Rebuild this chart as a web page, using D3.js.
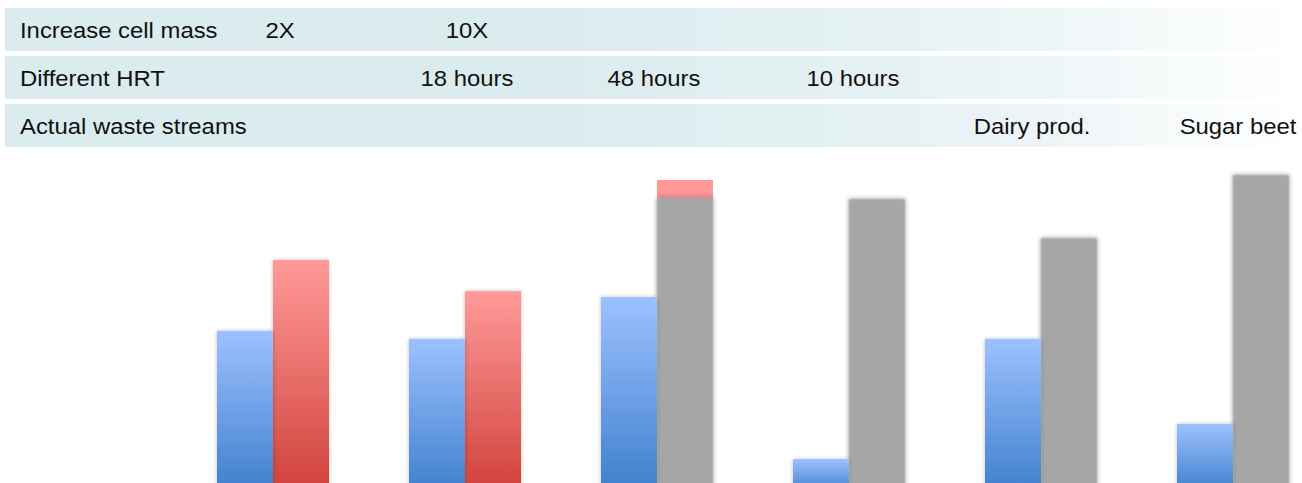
<!DOCTYPE html>
<html>
<head>
<meta charset="utf-8">
<script src="https://cdn.jsdelivr.net/npm/d3@7"></script>
<style>
  html, body { margin: 0; padding: 0; background: #ffffff; }
  svg { display: block; }
  text { font-family: "Liberation Sans", Arial, sans-serif; fill: #111111; }
</style>
</head>
<body>
<svg id="chart" width="1302" height="483"></svg>
<script>
// Six trials, each with a baseline run and a comparison run
const trials = ["Trial 1", "Trial 2", "Trial 3", "Trial 4", "Trial 5", "Trial 6"];
const baselineValues = [49.4, 46.8, 60.4, 7.8, 46.8, 19.2];
const redValues = [72.4, 62.3, 98.4, null, null, null];
const grayValues = [null, null, 92.5, 92.2, 79.5, 100];

// Condition rows shown above the bars
const rowTitles = ["Increase cell mass", "Different HRT", "Actual waste streams"];
const cellMassLabels = ["2X", "10X", "", "", "", ""];
const hrtLabels = ["", "18 hours", "48 hours", "10 hours", "", ""];
const wasteLabels = ["", "", "", "", "Dairy prod.", "Sugar beet"];
const rowLabels = [cellMassLabels, hrtLabels, wasteLabels];

const width = 1302, height = 483;
const svg = d3.select("#chart");
const defs = svg.append("defs");

// Vertical gradients for the bar fills
function vGradient(id, top, bottom) {
  const g = defs.append("linearGradient").attr("id", id)
    .attr("x1", 0).attr("y1", 0).attr("x2", 0).attr("y2", 1);
  g.append("stop").attr("offset", "0%").attr("stop-color", top);
  g.append("stop").attr("offset", "100%").attr("stop-color", bottom);
}
vGradient("blueFill", "#9cc1ff", "#3e7fcd");
vGradient("redFill", "#ff9a99", "#d0413b");

// Row bands fade out toward the right
const bandGrad = defs.append("linearGradient").attr("id", "bandFill")
  .attr("gradientUnits", "userSpaceOnUse")
  .attr("x1", 0).attr("y1", 0).attr("x2", width).attr("y2", 0);
bandGrad.append("stop").attr("offset", "0%").attr("stop-color", "#daecee");
bandGrad.append("stop").attr("offset", "42%").attr("stop-color", "#daecee");
bandGrad.append("stop").attr("offset", "75%").attr("stop-color", "#e9f3f5");
bandGrad.append("stop").attr("offset", "100%").attr("stop-color", "#ffffff");

// Soft shadow for the coloured bars
const shadow = defs.append("filter").attr("id", "barShadow")
  .attr("x", "-20%").attr("y", "-10%").attr("width", "140%").attr("height", "120%");
shadow.append("feGaussianBlur").attr("in", "SourceAlpha").attr("stdDeviation", 2).attr("result", "b");
shadow.append("feComponentTransfer").attr("in", "b").attr("result", "s")
  .append("feFuncA").attr("type", "linear").attr("slope", 0.25);
const m1 = shadow.append("feMerge");
m1.append("feMergeNode").attr("in", "s");
m1.append("feMergeNode").attr("in", "SourceGraphic");

// Blurred edges for the gray bars
const soft = defs.append("filter").attr("id", "graySoft")
  .attr("x", "-20%").attr("y", "-10%").attr("width", "140%").attr("height", "120%");
soft.append("feGaussianBlur").attr("in", "SourceAlpha").attr("stdDeviation", 2.5).attr("result", "b");
soft.append("feComponentTransfer").attr("in", "b").attr("result", "s")
  .append("feFuncA").attr("type", "linear").attr("slope", 0.45);
soft.append("feGaussianBlur").attr("in", "SourceGraphic").attr("stdDeviation", 1).attr("result", "g");
const m2 = soft.append("feMerge");
m2.append("feMergeNode").attr("in", "s");
m2.append("feMergeNode").attr("in", "g");

// Scales
const x = d3.scaleBand().domain(trials).range([177, 1329])
  .paddingInner(80 / 192).paddingOuter(40 / 192);
const xSub = d3.scaleBand().domain(["baseline", "second"]).range([0, x.bandwidth()]);
const y = d3.scaleLinear().domain([0, 100]).range([height, 175]);

// Condition rows
const rowTop = [8, 56, 104];
const labelNudge = [
  [7, 2, 0, 0, 0, 0],
  [0, 2, -3, 4, 0, 0],
  [0, 0, 0, 0, -9, 5]
];
const rows = svg.append("g");
rowTitles.forEach((title, i) => {
  rows.append("rect").attr("x", 5).attr("y", rowTop[i])
    .attr("width", width - 5).attr("height", 43).attr("fill", "url(#bandFill)");
  const base = rowTop[i] + 30.5;
  rows.append("text").attr("x", 20).attr("y", base)
    .attr("font-size", 22).attr("transform", `translate(20,0) scale(1.085,1) translate(-20,0)`)
    .text(title);
  rowLabels[i].forEach((lab, j) => {
    if (!lab) return;
    const cx = x(trials[j]) + x.bandwidth() / 2 + labelNudge[i][j];
    rows.append("text").attr("x", cx).attr("y", base)
      .attr("text-anchor", "middle").attr("font-size", 22)
      .attr("transform", `translate(${cx},0) scale(1.085,1) translate(${-cx},0)`)
      .text(lab);
  });
});

// Bars
const bars = svg.append("g");
trials.forEach((t, i) => {
  const x0 = x(t);
  const xs = x0 + xSub("second");
  if (redValues[i] != null) {
    const red = bars.append("rect")
      .attr("x", xs).attr("y", y(redValues[i]))
      .attr("width", xSub.bandwidth()).attr("height", y(0) - y(redValues[i]) + 10)
      .attr("fill", "url(#redFill)");
    if (grayValues[i] != null) {
      // the gray bar sits in front; only the red part above it shows
      const cid = "clipRed" + i;
      defs.append("clipPath").attr("id", cid).append("rect")
        .attr("x", xs - 10).attr("y", 0)
        .attr("width", xSub.bandwidth() + 20).attr("height", y(grayValues[i]) + 1);
      red.attr("clip-path", `url(#${cid})`);
    } else {
      red.attr("filter", "url(#barShadow)");
    }
  }
  if (grayValues[i] != null) {
    bars.append("rect")
      .attr("x", xs).attr("y", y(grayValues[i]))
      .attr("width", xSub.bandwidth()).attr("height", y(0) - y(grayValues[i]) + 10)
      .attr("fill", "#a6a6a6").attr("filter", "url(#graySoft)");
  }
  bars.append("rect")
    .attr("x", x0 + xSub("baseline")).attr("y", y(baselineValues[i]))
    .attr("width", xSub.bandwidth()).attr("height", y(0) - y(baselineValues[i]) + 10)
    .attr("fill", "url(#blueFill)").attr("filter", "url(#barShadow)");
});
</script>
</body>
</html>
